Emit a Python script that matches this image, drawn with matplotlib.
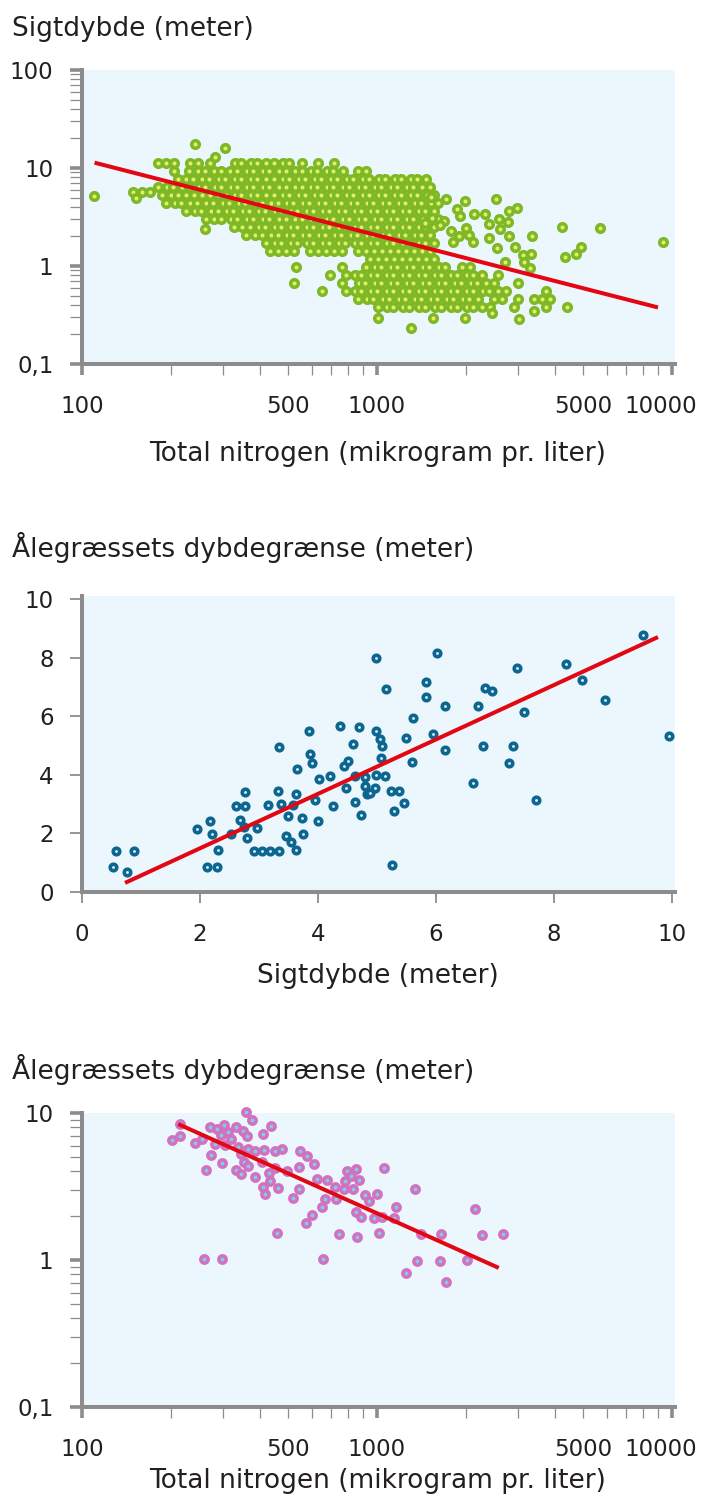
import matplotlib.pyplot as plt
import matplotlib.transforms as mtransforms
import numpy as np

# ---------- panel 1: Sigtdybde vs total nitrogen (log/log) ----------
sig_row_y = [11.25, 9.32, 7.72, 6.40, 5.30, 4.39, 3.64, 3.02, 2.50, 2.07, 1.72, 1.42, 1.18,
             0.977, 0.809, 0.671, 0.556, 0.461, 0.382]
sig_row_x = [
    [181, 193, 205, 232, 247, 272, 330, 347, 374, 393, 422, 446, 480, 505, 557, 631, 715],
    [205, 230, 248, 262, 281, 297, 318, 336, 362, 381, 410, 432, 465, 490, 526, 555, 596, 628,
     676, 712, 765, 862, 918],
    [212, 226, 238, 256, 270, 291, 306, 330, 347, 374, 393, 422, 446, 479, 504, 543, 572, 615,
     648, 697, 734, 789, 832, 895, 942, 1013, 1068, 1148, 1209, 1300, 1370, 1466],
    [181, 194, 204, 219, 231, 249, 261, 282, 296, 319, 336, 362, 381, 410, 432, 465, 490, 526,
     555, 596, 628, 676, 712, 765, 806, 866, 914, 982, 1035, 1113, 1172, 1260, 1328, 1421, 1512],
    [187, 200, 211, 226, 239, 256, 271, 290, 307, 330, 347, 373, 393, 422, 446, 479, 504, 543,
     572, 615, 648, 697, 734, 789, 832, 895, 942, 1013, 1068, 1148, 1209, 1300, 1370, 1473, 1560],
    [193, 206, 217, 233, 246, 264, 279, 300, 315, 340, 358, 385, 406, 436, 460, 495, 520, 560,
     590, 634, 668, 719, 757, 814, 857, 923, 972, 1046, 1101, 1184, 1248, 1342, 1414, 1520, 1610],
    [225, 241, 254, 273, 288, 310, 326, 351, 369, 397, 418, 450, 473, 510, 537, 578, 609, 655,
     689, 742, 781, 841, 885, 952, 1003, 1079, 1136, 1221, 1288, 1384, 1459, 1560],
    [263, 281, 297, 319, 336, 362, 381, 410, 432, 465, 490, 526, 555, 596, 628, 676, 712, 765,
     806, 866, 914, 982, 1035, 1113, 1172, 1260, 1328, 1428, 1504, 1610],
    [328, 350, 370, 397, 418, 450, 474, 510, 537, 578, 609, 655, 689, 742, 781, 841, 885, 952,
     1003, 1079, 1136, 1221, 1288, 1384, 1459, 1560],
    [360, 385, 406, 436, 460, 495, 520, 560, 590, 634, 668, 719, 757, 814, 857, 923, 972, 1046,
     1101, 1184, 1248, 1342, 1414, 1512],
    [420, 450, 473, 510, 537, 578, 609, 655, 689, 742, 781, 841, 885, 952, 1003, 1079, 1136,
     1221, 1288, 1384, 1459, 1560],
    [434, 462, 492, 523, 593, 631, 672, 715, 761, 862, 918, 977, 1040, 1107, 1178, 1254, 1335,
     1421, 1512],
    [947, 1008, 1073, 1142, 1215, 1294, 1377, 1466, 1560],
    [530, 761, 918, 982, 1035, 1113, 1172, 1260, 1328, 1428, 1504, 1618, 1705, 1942, 2067],
    [693, 785, 841, 885, 952, 1003, 1079, 1136, 1221, 1288, 1384, 1459, 1569, 1652, 1777, 1872,
     2013, 2121, 2270, 2572],
    [523, 761, 866, 914, 982, 1035, 1113, 1172, 1260, 1328, 1428, 1504, 1618, 1705, 1833, 1932,
     2077, 2189, 2342, 2493, 3006],
    [651, 785, 841, 885, 952, 1003, 1079, 1136, 1221, 1288, 1384, 1459, 1569, 1652, 1777, 1872,
     2013, 2121, 2282, 2404, 2572, 2737, 3740],
    [862, 923, 972, 1046, 1101, 1184, 1248, 1342, 1414, 1520, 1602, 1722, 1815, 1952, 2057, 2200,
     2493, 2653, 3006, 3406, 3625, 3859],
    [1008, 1079, 1136, 1221, 1288, 1384, 1459, 1569, 1652, 1777, 1872, 2013, 2121, 2270, 2416,
     2914, 3740, 4405],
]
# scattered points outside the cloud
sig_extra_x = [110, 149, 160, 170, 152, 242, 306, 283, 261,
               1524, 1714, 1983, 2531, 2985, 2806, 2317, 2128, 1916, 1867, 2404, 2600, 2780,
               2618, 2793, 2393, 2113, 2004, 2046, 1901, 1786, 1807, 1683, 1640, 1535, 1452,
               3350, 4246, 5689, 2939, 2553, 3126, 3334, 3141, 3311, 2723, 4345, 4742, 4932,
               9290, 1008, 1303, 1545, 1982, 2454, 3029, 3400]
sig_extra_y = [5.18, 5.73, 5.73, 5.73, 4.91, 17.5, 15.9, 13.0, 2.39,
               5.09, 4.83, 4.64, 4.86, 3.88, 3.64, 3.42, 3.40, 3.24, 3.82, 2.67, 3.02, 2.79,
               2.37, 2.02, 1.95, 1.75, 2.46, 2.07, 2.02, 2.29, 1.77, 2.90, 2.62, 3.07, 2.77,
               2.02, 2.52, 2.43, 1.55, 1.54, 1.29, 1.34, 1.09, 0.96, 1.11, 1.24, 1.32, 1.55,
               1.77, 0.298, 0.233, 0.292, 0.297, 0.331, 0.288, 0.347]
sig_fit_x = [112, 8830]
sig_fit_y = [11.2, 0.382]

# ---------- panel 2: dybdegrænse vs sigtdybde ----------
eel_sig = [0.53, 0.58, 0.77, 0.88, 1.95, 2.17, 2.21, 2.31, 2.11, 2.28,
           2.53, 2.61, 2.76, 2.76, 2.68, 2.75, 2.79, 2.97, 2.91, 3.05,
           3.19, 3.34, 3.15, 3.32, 3.37, 3.34, 3.49, 3.46, 3.54, 3.62,
           3.58, 3.63, 3.73, 3.75, 3.65, 3.84, 3.87, 3.90, 3.95, 4.00,
           4.02, 4.21, 4.25, 4.37, 4.70, 4.60, 4.44, 4.50, 4.62, 4.47,
           4.62, 4.73, 4.80, 4.80, 4.83,
           4.98, 6.01, 5.15, 5.83, 5.83, 6.15, 5.61, 4.98, 5.05, 5.08,
           5.49, 5.95, 5.06, 6.16, 5.59, 4.98, 5.14, 4.97, 4.88, 5.23,
           5.38, 5.45, 5.29, 5.25, 6.83, 6.95, 6.71, 7.37, 8.21, 8.48,
           8.87, 9.50, 9.95, 7.49, 6.79, 7.30, 7.24, 6.62, 7.69]
eel_depth = [0.86, 1.41, 0.67, 1.41, 2.14, 2.42, 1.99, 1.43, 0.87, 0.87,
             1.97, 2.94, 2.94, 3.42, 2.46, 2.23, 1.84, 2.19, 1.41, 1.41,
             1.41, 1.41, 2.98, 3.44, 3.00, 4.95, 2.58, 1.90, 1.71, 1.42,
             2.98, 3.34, 2.53, 1.97, 4.20, 5.48, 4.70, 4.39, 3.14, 2.41,
             3.85, 3.96, 2.94, 5.68, 5.64, 5.05, 4.31, 4.47, 3.95, 3.54,
             3.06, 2.63, 3.93, 3.62, 3.34,
             7.99, 8.17, 6.94, 7.15, 6.67, 6.35, 5.94, 5.51, 5.21, 4.98,
             5.24, 5.38, 4.57, 4.83, 4.44, 3.98, 3.96, 3.55, 3.37, 3.45,
             3.45, 3.03, 2.75, 0.92, 6.97, 6.87, 6.35, 7.65, 7.77, 7.25,
             6.56, 8.78, 5.34, 6.14, 4.97, 4.97, 4.41, 3.71, 3.14]
eel_fit_x = [0.76, 9.73]
eel_fit_y = [0.34, 8.67]

# ---------- panel 3: dybdegrænse vs total nitrogen ----------
tn_x = [202, 215, 215, 242, 255, 271, 287, 304, 296, 313,
        283, 321, 334, 352, 363, 359, 377, 305, 337, 365,
        385, 413, 411, 438, 450, 476, 273, 345, 354, 365,
        298, 263, 333, 347, 387, 407, 431, 434, 410, 417,
        461, 452, 495, 547, 580, 610, 544, 544, 518, 626,
        679, 719, 668, 653, 724, 604, 574, 457, 259, 298,
        658, 741, 853, 791, 849, 818, 781, 871, 775, 832,
        912, 942, 1002, 1057, 851, 881, 977, 1040, 1157, 1145,
        1018, 1342, 1413, 1644, 2149, 2275, 2673, 1364, 1636, 2023,
        1254, 1714]
tn_depth = [6.55, 7.01, 8.38, 6.28, 6.63, 8.07, 7.75, 8.25, 7.08, 7.46,
            6.12, 6.63, 8.00, 7.55, 6.98, 10.2, 8.96, 6.05, 5.90, 5.69,
            5.51, 5.60, 7.16, 8.12, 5.54, 5.71, 5.18, 5.24, 4.66, 4.38,
            4.55, 4.07, 4.09, 3.86, 3.65, 4.66, 3.89, 3.45, 3.15, 2.82,
            3.09, 4.21, 4.03, 5.54, 5.10, 4.48, 4.31, 3.04, 2.65, 3.56,
            3.50, 3.12, 2.60, 2.31, 2.59, 2.03, 1.79, 1.52, 1.01, 1.01,
            1.02, 1.50, 1.44, 4.05, 4.14, 3.73, 3.46, 3.50, 3.03, 3.03,
            2.78, 2.53, 2.82, 4.21, 2.11, 1.97, 1.92, 1.97, 2.31, 1.94,
            1.52, 3.03, 1.50, 1.50, 2.23, 1.49, 1.50, 0.99, 0.99, 1.00,
            0.82, 0.71]
tn_fit_x = [215, 2550]
tn_fit_y = [8.3, 0.895]

BG = '#EBF6FD'
AXC = '#8C8C8C'
TXT = '#231F20'
RED = '#E30613'

plt.rcParams['font.family'] = 'DejaVu Sans'

fig = plt.figure(figsize=(7.03, 15.04), dpi=100)
H = 1504.0


def make_axes(top, bottom):
    ax = fig.add_axes([82 / 703, 1 - bottom / H, 593 / 703, (bottom - top) / H])
    ax.set_facecolor(BG)
    for s in ['top', 'right']:
        ax.spines[s].set_visible(False)
    for s in ['left', 'bottom']:
        ax.spines[s].set_color(AXC)
        ax.spines[s].set_linewidth(2.9)
    ax.tick_params(which='both', colors=AXC, labelcolor=TXT, labelsize=16.5)
    return ax


def log_x(ax):
    ax.set_xscale('log')
    ax.set_xlim(100, 10240)
    ax.set_xticks([100, 1000, 10000])
    ax.set_xticklabels(['100', '1000', '10000'])
    minors = [200, 300, 400, 500, 600, 700, 800, 900,
              2000, 3000, 4000, 5000, 6000, 7000, 8000, 9000]
    ax.set_xticks(minors, minor=True)
    ax.set_xticklabels([str(m) if m in (500, 5000) else '' for m in minors], minor=True)
    ax.tick_params(axis='x', which='major', length=8, width=2.6, pad=14)
    ax.tick_params(axis='x', which='minor', length=8, width=0.9, pad=14)
    # the last label sits a little left of its tick, as in the original
    last = ax.get_xticklabels()[-1]
    last.set_transform(last.get_transform() +
                       mtransforms.ScaledTranslation(-0.11, 0, fig.dpi_scale_trans))


def log_y(ax, lo, hi, labels):
    ax.set_yscale('log')
    ax.set_ylim(lo, hi)
    majors = [v for v in [0.1, 1, 10, 100] if lo <= v <= hi]
    ax.set_yticks(majors)
    ax.set_yticklabels(labels)
    minors = [m * d for d in majors[:-1] for m in range(2, 10)]
    ax.set_yticks(minors, minor=True)
    ax.set_yticklabels([''] * len(minors), minor=True)
    ax.tick_params(axis='y', which='major', length=8.5, width=2.6, pad=12)
    ax.tick_params(axis='y', which='minor', length=8.5, width=0.9, pad=12)


# panel 1
ax1 = make_axes(70, 364)
log_x(ax1)
log_y(ax1, 0.1, 100, ['0,1', '1', '10', '100'])
sx, sy = [], []
for yv, row in zip(sig_row_y, sig_row_x):
    sx += row
    sy += [yv] * len(row)
sx += sig_extra_x
sy += sig_extra_y
ax1.scatter(sx, sy, s=30, facecolor='#E6EE68', edgecolor='#7DB827', linewidth=2.5,
            zorder=3, clip_on=False)
ax1.plot(sig_fit_x, sig_fit_y, color=RED, lw=2.9, zorder=4)

# panel 2
ax2 = make_axes(596, 892)
ax2.set_xlim(0, 10.05)
ax2.set_ylim(0, 10.1)
ax2.set_xticks(range(0, 11, 2))
ax2.set_yticks(range(0, 11, 2))
ax2.tick_params(axis='x', length=8, width=1.3, pad=14)
ax2.tick_params(axis='y', length=8.5, width=1.3, pad=12)
ax2.scatter(eel_sig, eel_depth, s=22, facecolor='#EAF4F8', edgecolor='#0B6690', linewidth=2.6,
            zorder=3, clip_on=False)
ax2.plot(eel_fit_x, eel_fit_y, color=RED, lw=2.9, zorder=4)

# panel 3
ax3 = make_axes(1113, 1407)
log_x(ax3)
log_y(ax3, 0.1, 10, ['0,1', '1', '10'])
ax3.scatter(tn_x, tn_depth, s=28, facecolor='#7FCDE8', edgecolor='#D271BF', linewidth=2.5,
            zorder=3, clip_on=False)
ax3.plot(tn_fit_x, tn_fit_y, color=RED, lw=2.9, zorder=4)

# titles and axis labels
fig.text(12 / 703, 1 - 36 / H, 'Sigtdybde (meter)', fontsize=19, color=TXT, va='baseline')
fig.text(12 / 703, 1 - 557 / H, 'Ålegræssets dybdegrænse (meter)', fontsize=19, color=TXT,
         va='baseline')
fig.text(12 / 703, 1 - 1079 / H, 'Ålegræssets dybdegrænse (meter)', fontsize=19, color=TXT,
         va='baseline')
fig.text(378 / 703, 1 - 461 / H, 'Total nitrogen (mikrogram pr. liter)', fontsize=19,
         color=TXT, ha='center', va='baseline')
fig.text(378 / 703, 1 - 983 / H, 'Sigtdybde (meter)', fontsize=19, color=TXT,
         ha='center', va='baseline')
fig.text(378 / 703, 1 - 1488 / H, 'Total nitrogen (mikrogram pr. liter)', fontsize=19,
         color=TXT, ha='center', va='baseline')

fig.savefig('out.png', dpi=100)
